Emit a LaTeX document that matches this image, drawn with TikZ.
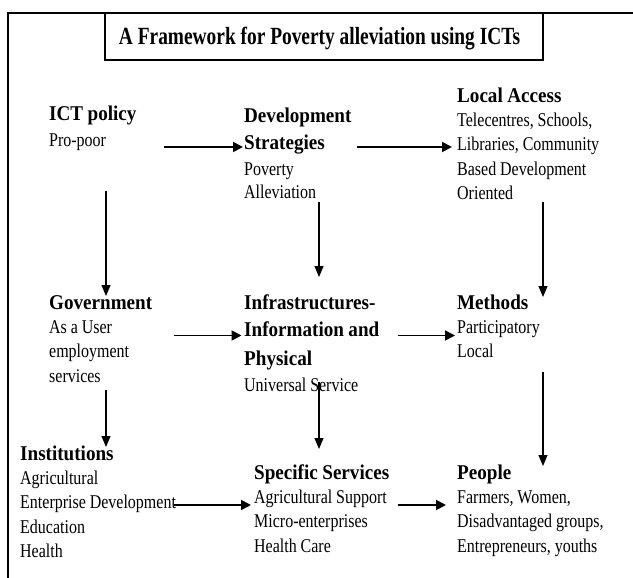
\documentclass[tikz,border=0pt]{standalone}
\usepackage{fontspec}
\setmainfont{Liberation Serif}[FakeStretch=0.82]
\newfontfamily\headfamily{Liberation Serif}[FakeStretch=0.91]
\newfontfamily\titlefamily{Liberation Serif}[FakeStretch=0.785]
\usetikzlibrary{arrows.meta,calc}
\setlength{\parindent}{0pt}
% bold heading line inside a block
\newcommand\hdg[1]{{\headfamily\bfseries\fontsize{21}{24.3}\selectfont
  \spaceskip=4.5pt plus 1pt minus 1pt\relax #1}}

\begin{document}
\begin{tikzpicture}[x=1pt,y=-1pt,
  blk/.style={anchor=north west, inner sep=0pt, align=flush left, text width=#1,
    font=\fontsize{19.5}{24.3}\selectfont,
    execute at begin node={\spaceskip=3.9pt plus 1pt minus 0.5pt\relax
      \rule{0pt}{15pt}}},
  blk/.default=160pt,
  harr/.style={line width=1.8pt, -{Triangle[length=10pt,width=10pt]}},
  varr/.style={line width=1.2pt, -{Triangle[length=11pt,width=9pt]}}]

\useasboundingbox (0,0) rectangle (633,578);
\fill[white] (0,0) rectangle (633,578);

% open frame: top and left edges
\draw[line width=2pt] (633,13) -- (8,13) -- (8,578);

% title
\node[draw, line width=2pt, minimum width=438pt, minimum height=47pt,
      inner sep=0pt, text height=17pt, text depth=0pt,
      font=\titlefamily\bfseries\fontsize{24.7}{28}\selectfont]
  (title) at (324,36.5) {A Framework for Poverty alleviation using ICTs\hspace*{9pt}};

% blocks
\node[blk=114.6pt] (ict) at (49,105) {\hdg{ICT policy}\\[1.7pt] Pro-poor};
\node[blk=113pt] (dev) at (244,107)
  {\hdg{Development}\\[2.7pt] \hdg{Strategies}\\[1.7pt] Poverty\\[-1.3pt] Alleviation};
\node[blk] (loc) at (457,87)
  {\hdg{Local Access}\\ Telecentres, Schools,\\ Libraries, Community\\ Based Development\\ Oriented};

\node[blk=124.6pt] (gov) at (49,294) {\hdg{Government}\\ As a User\\ employment\\ services};
\node[blk=153.7pt] (inf) at (244,294)
  {\hdg{Infrastructures-}\\[2.7pt] \hdg{Information and}\\[4.7pt] \hdg{Physical}\\[1.7pt] Universal Service};
\node[blk] (met) at (457,294) {\hdg{Methods}\\ Participatory\\ Local};

\node[blk=153.6pt] (ins) at (20,445)
  {\hdg{Institutions}\\ Agricultural\\ \mbox{Enterprise Development}\\ Education\\ Health};
\node[blk=143.7pt] (spe) at (254,464)
  {\hdg{Specific Services}\\ Agricultural Support\\ Micro-enterprises\\ Health Care};
\node[blk] (peo) at (457,464)
  {\hdg{People}\\ Farmers, Women,\\ Disadvantaged groups,\\ Entrepreneurs, youths};

% guide rows and columns for the connectors
\coordinate (rh1) at (0,147);
\coordinate (rh2) at (0,335.5);
\coordinate (rh3) at (0,505);
\coordinate (cl) at (106,0);
\coordinate (cm) at (319,0);
\coordinate (cr) at (543,0);

% horizontal connectors
\draw[harr, shorten >=1pt]  (ict.east |- rh1) -- (dev.west |- rh1);
\draw[harr, shorten >=5pt]  (dev.east |- rh1) -- (loc.west |- rh1);
\draw[harr, shorten >=2.5pt] (gov.east |- rh2) -- (inf.west |- rh2);
\draw[harr, shorten >=2pt]  (inf.east |- rh2) -- (met.west |- rh2);
\draw[harr, shorten >=3pt]  (ins.east |- rh3) -- (spe.west |- rh3);
\draw[harr, shorten >=11pt] (spe.east |- rh3) -- (peo.west |- rh3);

% vertical connectors
\draw[varr] ($(cl |- ict.north)+(0,86)$)  -- ($(cl |- gov.north)+(0,2)$);
\draw[varr] ($(cm |- dev.north)+(0,95)$)  -- ($(cm |- inf.north)+(0,-17)$);
\draw[varr] ($(cr |- loc.north)+(0,115)$) -- ($(cr |- met.north)+(0,3)$);
\draw[varr] ($(cl |- gov.north)+(0,96)$)  -- ($(cl |- ins.north)+(0,2)$);
\draw[varr] ($(cm |- inf.north)+(0,88)$)  -- ($(cm |- spe.north)+(0,-15)$);
\draw[varr] ($(cr |- met.north)+(0,78)$)  -- ($(cr |- peo.north)+(0,2)$);
\end{tikzpicture}
\end{document}
